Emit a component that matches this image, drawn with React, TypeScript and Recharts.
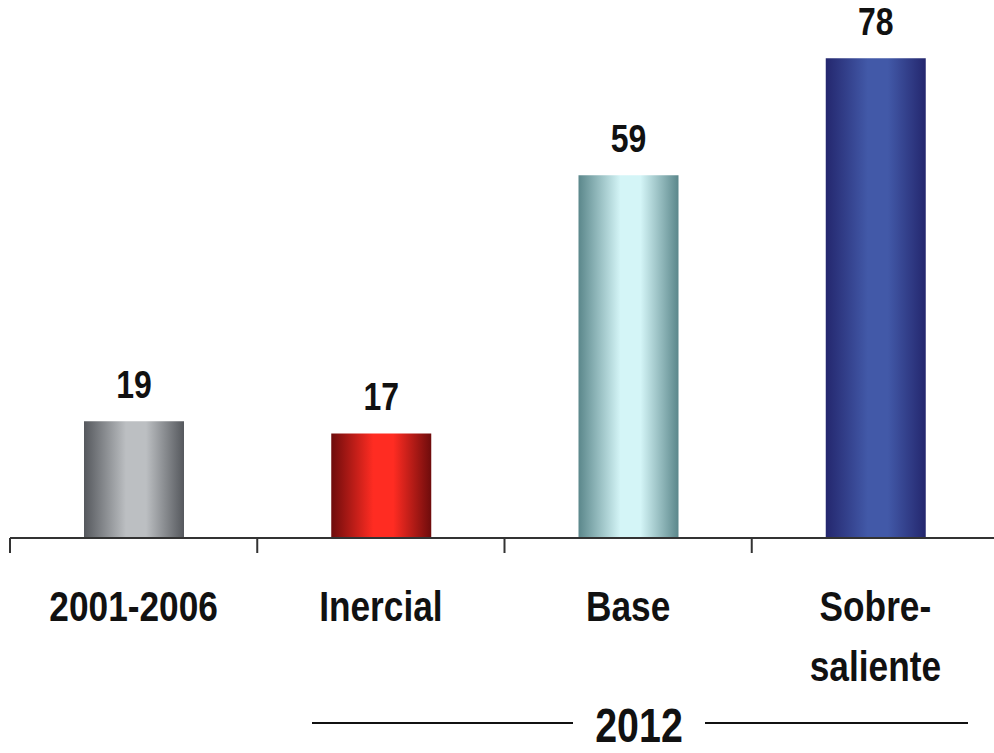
import { BarChart, Bar, XAxis, YAxis, LabelList, Cell } from "recharts";

const categories = ["2001-2006", "Inercial", "Base", "Sobre-\nsaliente"];
const values = [19, 17, 59, 78];
const groupLabel = "2012";
const boundaryTicks = [0, 1, 2, 3, 4];

const gradients = [
  { id: "g0", edge: "#55585d", mid: "#bcbfc2" },
  { id: "g1", edge: "#6e0c0c", mid: "#ff2c22" },
  { id: "g2", edge: "#5b878b", mid: "#d4f5f7" },
  { id: "g3", edge: "#24276e", mid: "#4259a8" },
];

const data = categories.map((name, i) => ({ name, value: values[i], pos: i + 0.5 }));

// Liberation Sans Bold squeezed to 82% matches Arial Narrow Bold
const FONT = "'Liberation Sans', Arial, sans-serif";
const NARROW = 0.82;

function CategoryTick(props: any) {
  const { x, y, payload } = props;
  const lines = String(payload.value).split("\n");
  return (
    <g>
      {lines.map((ln: string, i: number) => (
        <text
          key={i}
          transform={`translate(${x},${y + 82 + i * 60}) scale(${NARROW},1)`}
          textAnchor="middle"
          fontFamily={FONT}
          fontWeight="bold"
          fontSize={43}
          fill="#111"
        >
          {ln}
        </text>
      ))}
    </g>
  );
}

function ValueLabel(props: any) {
  const { x, y, width, value } = props;
  return (
    <text
      transform={`translate(${x + width / 2},${y - 23}) scale(${NARROW},1)`}
      textAnchor="middle"
      fontFamily={FONT}
      fontWeight="bold"
      fontSize={39}
      fill="#111"
    >
      {value}
    </text>
  );
}

export default function App() {
  return (
    <div style={{ position: "fixed", left: 0, top: 0, width: 994, height: 753, overflow: "hidden", background: "#fff" }}>
      <BarChart
        width={1000}
        height={753}
        data={data}
        margin={{ top: 46, right: 1, bottom: 0, left: 10 }}
        barCategoryGap={0}
      >
        <defs>
          {gradients.map((g) => (
            <linearGradient key={g.id} id={g.id} x1="0" y1="0" x2="1" y2="0">
              <stop offset="0%" stopColor={g.edge} />
              <stop offset="42%" stopColor={g.mid} />
              <stop offset="62%" stopColor={g.mid} />
              <stop offset="100%" stopColor={g.edge} />
            </linearGradient>
          ))}
        </defs>
        <XAxis
          xAxisId="a"
          type="number"
          dataKey="pos"
          domain={[0, 4]}
          ticks={boundaryTicks}
          height={1}
          axisLine={{ stroke: "#333", strokeWidth: 2 }}
          tickLine={{ stroke: "#333", strokeWidth: 2 }}
          tickSize={15}
          tick={() => <g />}
          interval={0}
          allowDataOverflow
        />
        <XAxis
          xAxisId="c"
          dataKey="name"
          height={214}
          axisLine={false}
          tickLine={false}
          tickSize={0}
          tickMargin={0}
          interval={0}
          tick={<CategoryTick />}
        />
        <YAxis hide domain={[0, 80]} />
        <Bar xAxisId="c" dataKey="value" barSize={100} isAnimationActive={false}>
          {data.map((d, i) => (
            <Cell key={d.name} fill={`url(#${gradients[i].id})`} />
          ))}
          <LabelList dataKey="value" content={<ValueLabel />} />
        </Bar>
      </BarChart>
      <svg width={994} height={753} style={{ position: "absolute", left: 0, top: 0, pointerEvents: "none" }}>
        <line x1={312} x2={573} y1={723} y2={723} stroke="#111" strokeWidth={2} />
        <line x1={705} x2={968} y1={723} y2={723} stroke="#111" strokeWidth={2} />
        <text
          transform={`translate(639,742) scale(${NARROW},1)`}
          textAnchor="middle"
          fontFamily={FONT}
          fontWeight="bold"
          fontSize={48}
          fill="#111"
        >
          {groupLabel}
        </text>
      </svg>
    </div>
  );
}
